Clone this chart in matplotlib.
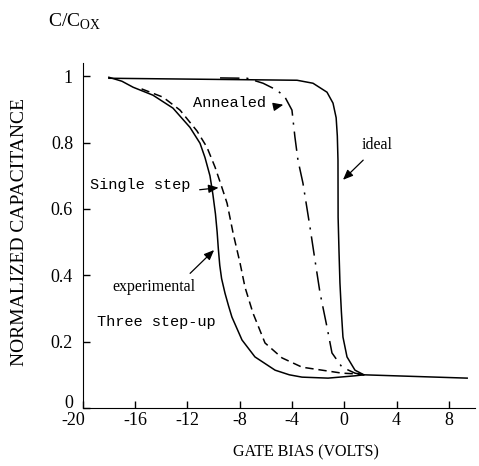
import matplotlib
matplotlib.use("Agg")
import matplotlib.pyplot as plt
import matplotlib.transforms as mtransforms

plt.rcParams["font.family"] = ["Liberation Serif", "DejaVu Serif"]
plt.rcParams["mathtext.fontset"] = "custom"
plt.rcParams["mathtext.rm"] = "Liberation Serif"
plt.rcParams["lines.scale_dashes"] = False
plt.rcParams["axes.unicode_minus"] = False

# curves (gate bias in volts, normalized C/Cox)
ideal_x = [-18.0, -3.61, -2.39, -1.32, -0.86, -0.62, -0.53, -0.48, -0.47, -0.40, -0.33, -0.22, -0.10, 0.21, 0.82, 1.50, 9.4]
ideal_y = [0.994, 0.988, 0.979, 0.952, 0.919, 0.875, 0.820, 0.747, 0.575, 0.470, 0.377, 0.290, 0.214, 0.154, 0.114, 0.100, 0.090]

exp_x = [-18.0, -17.0, -16.15, -14.63, -13.10, -11.80, -11.03, -10.65, -10.27, -10.05, -9.85, -9.72, -9.63, -9.52, -9.38, -9.12, -8.85, -8.59, -7.82, -6.83, -5.29, -4.2, -3.23, -1.24, 0.82, 1.50]
exp_y = [0.997, 0.985, 0.967, 0.943, 0.904, 0.846, 0.798, 0.755, 0.700, 0.645, 0.585, 0.530, 0.480, 0.430, 0.390, 0.346, 0.308, 0.274, 0.205, 0.154, 0.114, 0.100, 0.093, 0.090, 0.097, 0.100]

single_x = [-15.5, -13.86, -12.56, -11.26, -10.50, -9.88, -9.40, -8.96, -8.50, -7.97, -7.59, -6.98, -6.06, -4.76, -3.23, -1.70, -0.17, 0.82, 1.50]
single_y = [0.962, 0.937, 0.898, 0.835, 0.786, 0.726, 0.670, 0.617, 0.527, 0.437, 0.364, 0.286, 0.196, 0.151, 0.123, 0.114, 0.105, 0.103, 0.100]

anneal_x = [-9.5, -7.43, -6.21, -5.14, -4.53, -4.00, -3.77, -3.54, -3.16, -2.62, -2.24, -1.85, -1.32, -0.94, -0.17, 0.82, 1.50]
anneal_y = [0.995, 0.994, 0.979, 0.958, 0.937, 0.898, 0.816, 0.747, 0.678, 0.545, 0.446, 0.346, 0.244, 0.166, 0.123, 0.105, 0.100]

x_ticks = [-20, -16, -12, -8, -4, 0, 4, 8]
y_ticks = [0, 0.2, 0.4, 0.6, 0.8, 1]
y_tick_labels = ["0", "0.2", "0.4", "0.6", "0.8", "1"]

fig = plt.figure(figsize=(4.79, 4.66), dpi=100)
ax = fig.add_axes([0.1727, 0.1245, 0.819, 0.7403])

lw = 1.1
ax.plot(ideal_x, ideal_y, color="black", lw=lw, solid_joinstyle="round")
ax.plot(exp_x, exp_y, color="black", lw=lw, solid_joinstyle="round")
ax.plot(single_x, single_y, color="black", lw=lw, dashes=(6, 3.5))
ax.plot(anneal_x, anneal_y, color="black", lw=lw, dashes=(14, 5, 1.5, 5))

ax.set_xlim(-20, 10)
ax.set_ylim(0, 1.04)
ax.spines["top"].set_visible(False)
ax.spines["right"].set_visible(False)
ax.set_xticks(x_ticks)
ax.set_yticks(y_ticks)
ax.set_yticklabels(y_tick_labels)
ax.tick_params(direction="in", length=5, width=1, labelsize=13)
ax.tick_params(axis="x", pad=3)
ax.tick_params(axis="y", pad=7)

# corner labels sit apart in the original: "0" a bit up, "-20" a bit left
ax.get_yticklabels()[0].set_transform(
    ax.get_yticklabels()[0].get_transform() + mtransforms.ScaledTranslation(0, 5 / 72, fig.dpi_scale_trans))
ax.get_xticklabels()[0].set_transform(
    ax.get_xticklabels()[0].get_transform() + mtransforms.ScaledTranslation(-7 / 72, 0, fig.dpi_scale_trans))

ax.set_xlabel("GATE BIAS (VOLTS)", fontsize=11.5)
ax.xaxis.set_label_coords(0.569, -0.128)
ax.xaxis.label.set_va("center")
ax.set_ylabel("NORMALIZED CAPACITANCE", fontsize=14)
ax.yaxis.set_label_coords(-0.16, 0.51)
ax.yaxis.label.set_va("center")

fig.text(0.100, 0.953, r"C/C$_{\rm OX}$", fontsize=14, va="center", ha="left")

mono = dict(family=["Liberation Mono", "DejaVu Sans Mono"], fontsize=11)
serif = dict(fontsize=11.5)
head = dict(arrowstyle="-|>,head_length=0.6,head_width=0.25", color="black", lw=0.9)

ax.text(-11.6, 0.919, "Annealed", ha="left", va="center", **mono)
ax.annotate("", xy=(-4.45, 0.916), xytext=(-5.5, 0.907), arrowprops=head)

ax.text(-19.44, 0.672, "Single step", ha="left", va="center", **mono)
ax.annotate("", xy=(-9.4, 0.665), xytext=(-11.27, 0.657), arrowprops=head)

ax.text(-18.9, 0.259, "Three step-up", ha="left", va="center", **mono)

ax.text(-17.75, 0.364, "experimental", ha="left", va="center", **serif)
ax.annotate("", xy=(-9.8, 0.482), xytext=(-11.94, 0.40), arrowprops=head)

ax.text(2.5, 0.792, "ideal", ha="center", va="center", **serif)
ax.annotate("", xy=(-0.25, 0.682), xytext=(1.6, 0.753), arrowprops=head)

fig.savefig("out.png", dpi=100)
